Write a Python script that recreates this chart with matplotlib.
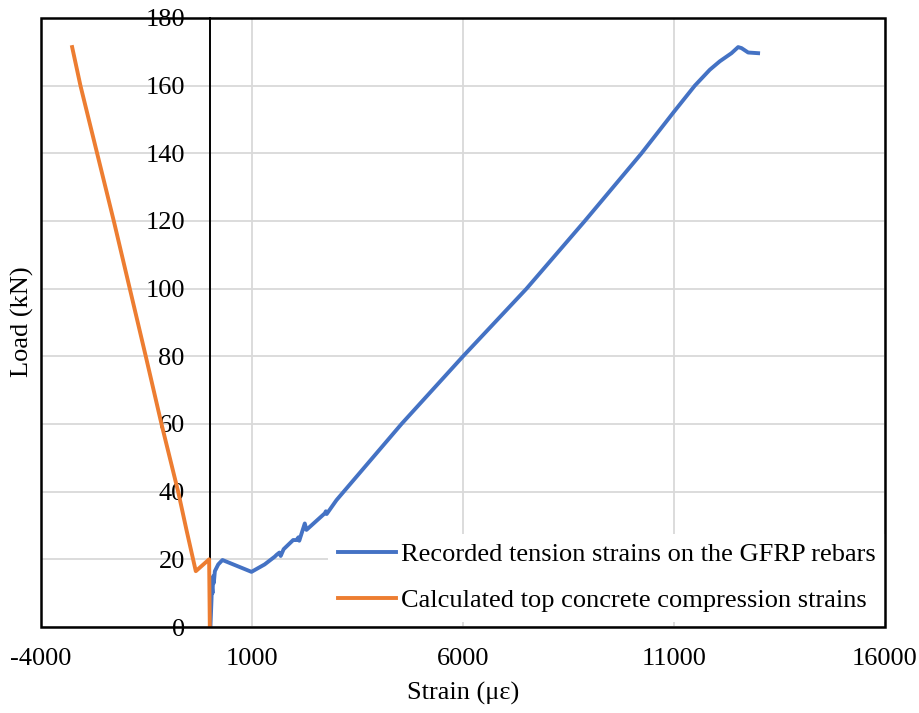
import matplotlib
matplotlib.use("Agg")
import matplotlib.pyplot as plt
from matplotlib.patches import Rectangle

plt.rcParams['font.family'] = ['Liberation Serif', 'DejaVu Serif']
plt.rcParams['axes.unicode_minus'] = False

# Recorded tension strains on the GFRP rebars
tension_strain = [15, 40, 50, 65, 80, 95, 120, 160, 200, 300, 988, 1300, 1540, 1580,
                  1650, 1680, 1750, 1975, 2054, 2100, 2120, 2251, 2290, 2725, 2750, 2770,
                  3002, 4542, 6000, 7505, 8886, 10230, 11000, 11493, 11848, 12085,
                  12362, 12520, 12600, 12757, 12993]
tension_load = [0, 8, 12, 10, 15, 13, 16.5, 17.5, 18.5, 19.8, 16.3, 18.5, 20.8, 21.3,
                22, 21, 23, 25.7, 25.7, 26.5, 25.5, 30.6, 28.7, 33.6, 34.2, 33.4,
                37.5, 60, 80, 100, 120, 140, 152.3, 160, 164.7, 167.2,
                169.6, 171.4, 171.1, 169.8, 169.6]

# Calculated top concrete compression strains
comp_strain = [-3262, -3065, -2670, -2275, -1896, -1517, -1145, -750, -553, -332, -16, 0]
comp_load = [171.4, 160, 140, 120, 100, 80, 60, 40, 28.7, 16.5, 20, 0]

x_ticks = [-4000, 1000, 6000, 11000, 16000]
y_ticks = [0, 20, 40, 60, 80, 100, 120, 140, 160, 180]

FS = 19

fig = plt.figure(figsize=(9.2, 7.13), dpi=100)
ax = fig.add_axes([41/920, 1 - 627/713, (885-41)/920, (627-18)/713])

ax.plot(tension_strain, tension_load, color='#4472C4', lw=2.8,
        label='Recorded tension strains on the GFRP rebars', zorder=3)
ax.plot(comp_strain, comp_load, color='#ED7D31', lw=2.8,
        label='Calculated top concrete compression strains', zorder=3)

ax.set_xlim(-4000, 16000)
ax.set_ylim(0, 180)
ax.set_xticks(x_ticks)
ax.set_yticks(y_ticks)
ax.grid(True, color='#d9d9d9', lw=1.3, zorder=0)
ax.set_axisbelow(True)

ax.spines['left'].set_position(('data', 0))
ax.spines['left'].set_linewidth(1.4)
ax.spines['left'].set_zorder(2.5)
for s in ['top', 'right', 'bottom']:
    ax.spines[s].set_visible(False)

ax.add_patch(Rectangle((0, 0), 1, 1, transform=ax.transAxes, fill=False,
                       edgecolor='black', lw=1.8, zorder=5, clip_on=False))

ax.tick_params(axis='y', length=0, pad=18, labelsize=FS)
ax.tick_params(axis='x', length=0, pad=15, labelsize=FS)

ax.set_xlabel('Strain (\u03bc\u03b5)', fontsize=FS, labelpad=9)
fig.text(22/920, 1 - 322/713, 'Load (kN)', rotation=90, fontsize=FS,
         ha='center', va='center')

leg = ax.legend(loc='lower right', bbox_to_anchor=(1.0, 0.009), fontsize=FS,
                frameon=True, facecolor='white', edgecolor='none', framealpha=1,
                handlelength=2.2, handletextpad=0.2, labelspacing=0.85,
                borderpad=0.35, borderaxespad=0.0, fancybox=False)
leg.set_zorder(4)

fig.savefig('out.png', dpi=100)
